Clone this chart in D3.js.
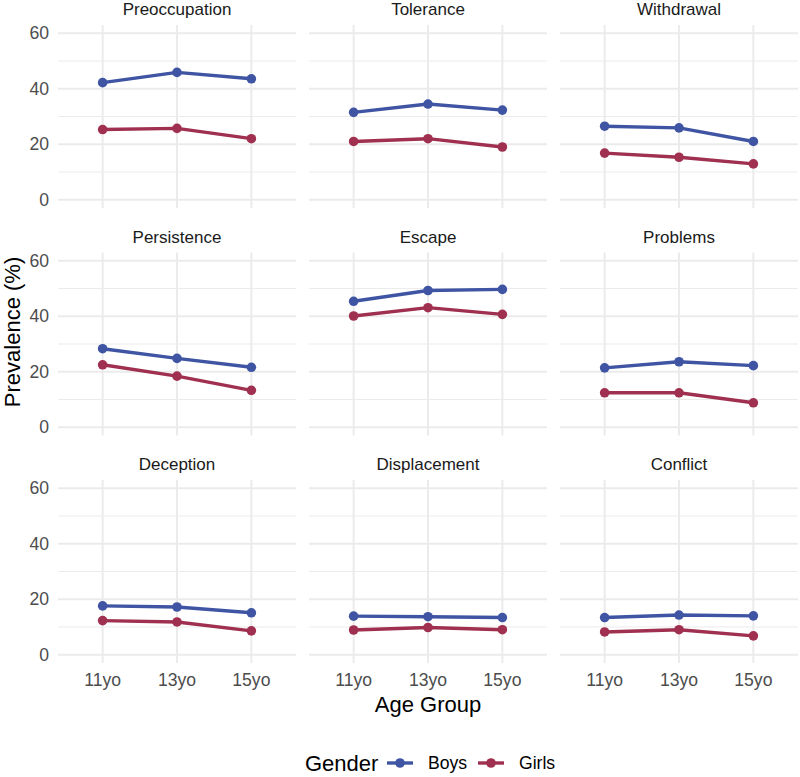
<!DOCTYPE html>
<html>
<head>
<meta charset="utf-8">
<script src="https://cdn.jsdelivr.net/npm/d3@7"></script>
<style>
  body { margin: 0; background: #fff; }
  text { font-family: "Liberation Sans", Arial, sans-serif; }
</style>
</head>
<body>
<div id="chart"></div>
<script>
// facet panels, in reading order
var facets = ["Preoccupation", "Tolerance", "Withdrawal",
              "Persistence", "Escape", "Problems",
              "Deception", "Displacement", "Conflict"];
var ages = ["11yo", "13yo", "15yo"];
var genders = ["Boys", "Girls"];
var yTicks = [0, 20, 40, 60];
var yMinor = [10, 30, 50];

// prevalence (%) per facet, 11yo / 13yo / 15yo
var boys = [
  [42.2, 45.9, 43.6],
  [31.5, 34.5, 32.3],
  [26.5, 25.9, 21.0],
  [28.3, 24.8, 21.6],
  [45.4, 49.3, 49.7],
  [21.4, 23.6, 22.2],
  [17.6, 17.2, 15.1],
  [13.9, 13.7, 13.4],
  [13.4, 14.3, 14.0]
];
var girls = [
  [25.3, 25.7, 22.0],
  [21.0, 22.0, 19.0],
  [16.8, 15.3, 12.9],
  [22.5, 18.4, 13.3],
  [40.1, 43.1, 40.7],
  [12.4, 12.4, 8.8],
  [12.3, 11.8, 8.6],
  [8.9, 9.8, 9.0],
  [8.2, 9.0, 6.8]
];

var width = 800, height = 777;
var colLeft = [58, 309, 560];
var rowTop = [25, 252.5, 480];
var pw = 238, ph = 183;

var color = d3.scaleOrdinal().domain(genders).range(["#3F55A4", "#A0304F"]);

var svg = d3.select("#chart").append("svg")
    .attr("width", width)
    .attr("height", height);

var x = d3.scalePoint().domain(ages).range([0, pw]).padding(0.6);
var y = d3.scaleLinear().domain([-3, 63]).range([ph, 0]);

var line = d3.line()
    .x(function (d, i) { return x(ages[i]); })
    .y(function (d) { return y(d); });

facets.forEach(function (name, f) {
    var col = f % 3, row = Math.floor(f / 3);
    var g = svg.append("g")
        .attr("transform", "translate(" + colLeft[col] + "," + rowTop[row] + ")");

    // minor grid
    g.selectAll(".minor").data(yMinor).enter().append("line")
        .attr("x1", 0).attr("x2", pw)
        .attr("y1", function (d) { return y(d); })
        .attr("y2", function (d) { return y(d); })
        .attr("stroke", "#ebebeb").attr("stroke-width", 1);

    // major grid
    g.selectAll(".major").data(yTicks).enter().append("line")
        .attr("x1", 0).attr("x2", pw)
        .attr("y1", function (d) { return y(d); })
        .attr("y2", function (d) { return y(d); })
        .attr("stroke", "#ebebeb").attr("stroke-width", 2);

    g.selectAll(".vgrid").data(ages).enter().append("line")
        .attr("x1", function (d) { return x(d); })
        .attr("x2", function (d) { return x(d); })
        .attr("y1", 0).attr("y2", ph)
        .attr("stroke", "#ebebeb").attr("stroke-width", 2);

    // strip title
    g.append("text")
        .attr("x", pw / 2).attr("y", -10)
        .attr("text-anchor", "middle")
        .style("font-size", "17px")
        .style("fill", "#1a1a1a")
        .text(name);

    // y labels only on first column
    if (col == 0) {
        g.selectAll(".ylab").data(yTicks).enter().append("text")
            .attr("x", -9)
            .attr("y", function (d) { return y(d); })
            .attr("dy", "0.35em")
            .attr("text-anchor", "end")
            .style("font-size", "17.6px")
            .style("fill", "#4d4d4d")
            .text(function (d) { return d; });
    }

    // x labels only on bottom row
    if (row == 2) {
        g.selectAll(".xlab").data(ages).enter().append("text")
            .attr("x", function (d) { return x(d); })
            .attr("y", ph + 23)
            .attr("text-anchor", "middle")
            .style("font-size", "17.6px")
            .style("fill", "#4d4d4d")
            .text(function (d) { return d; });
    }

    var series = [boys[f], girls[f]];
    series.forEach(function (vals, s) {
        g.append("path")
            .attr("d", line(vals))
            .attr("fill", "none")
            .attr("stroke", color(genders[s]))
            .attr("stroke-width", 3.4)
            .attr("stroke-linejoin", "round");

        g.selectAll(".pt" + s).data(vals).enter().append("circle")
            .attr("cx", function (d, i) { return x(ages[i]); })
            .attr("cy", function (d) { return y(d); })
            .attr("r", 4.8)
            .attr("fill", color(genders[s]));
    });
});

// axis titles
svg.append("text")
    .attr("x", (colLeft[0] + colLeft[2] + pw) / 2)
    .attr("y", 712)
    .attr("text-anchor", "middle")
    .style("font-size", "22px")
    .style("fill", "#000")
    .text("Age Group");

svg.append("text")
    .attr("transform", "translate(20,332) rotate(-90)")
    .attr("text-anchor", "middle")
    .style("font-size", "22px")
    .style("fill", "#000")
    .text("Prevalence (%)");

// legend
var legend = svg.append("g").attr("transform", "translate(0,763)");
legend.append("text")
    .attr("x", 305).attr("y", 0).attr("dy", "0.35em")
    .style("font-size", "22px")
    .text("Gender");

var keyX = [387, 478];
genders.forEach(function (gname, i) {
    legend.append("line")
        .attr("x1", keyX[i]).attr("x2", keyX[i] + 26)
        .attr("y1", 0).attr("y2", 0)
        .attr("stroke", color(gname)).attr("stroke-width", 3.4);
    legend.append("circle")
        .attr("cx", keyX[i] + 13).attr("cy", 0).attr("r", 4.8)
        .attr("fill", color(gname));
    legend.append("text")
        .attr("x", keyX[i] + 41).attr("y", 0).attr("dy", "0.35em")
        .style("font-size", "17.6px")
        .text(gname);
});
</script>
</body>
</html>
